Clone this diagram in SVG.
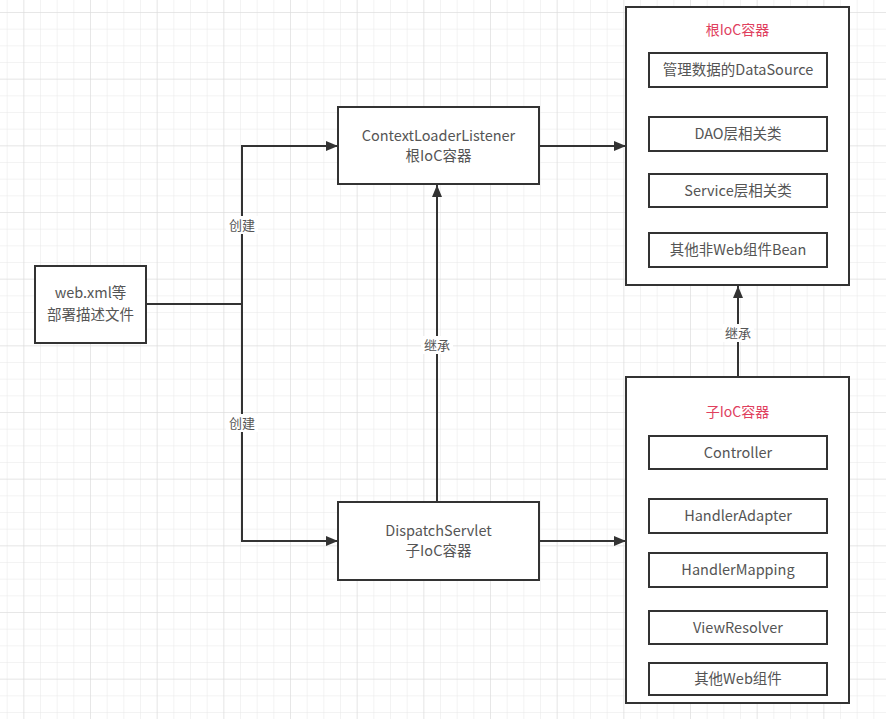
<svg xmlns="http://www.w3.org/2000/svg" width="886" height="719" viewBox="0 0 886 719">
<defs>
<pattern id="minor" x="6.667" y="12" width="16.667" height="16.667" patternUnits="userSpaceOnUse">
<path d="M0 0H16.667M0 0V16.667" fill="none" stroke="#e8e8e8" stroke-width="1"/>
</pattern>
<pattern id="major" x="23.333" y="12" width="66.667" height="66.667" patternUnits="userSpaceOnUse">
<path d="M0 0H66.667M0 0V66.667" fill="none" stroke="#dcdcdc" stroke-width="1"/>
</pattern>
<marker id="arr" viewBox="0 0 12 10" refX="12" refY="5" markerWidth="12" markerHeight="10" markerUnits="userSpaceOnUse" orient="auto">
<path d="M0 0L12 5L0 10Z" fill="#333"/>
</marker>
<style>
.box{fill:#fff;stroke:#333;stroke-width:2}
.t{font-family:"Noto Sans CJK SC","Noto Sans",sans-serif;font-size:14.5px;fill:#555;text-anchor:middle}
.title{font-family:"Noto Sans CJK SC","Noto Sans",sans-serif;font-size:14px;fill:#e0405e;text-anchor:middle}
.lbl{font-family:"Noto Sans CJK SC","Noto Sans",sans-serif;font-size:13px;fill:#555;text-anchor:middle}
.c{fill:none;stroke:#333;stroke-width:2}
.bg{fill:#fff}
</style>
</defs>
<rect width="886" height="719" fill="#fff"/>
<rect width="886" height="719" fill="url(#minor)"/>
<rect width="886" height="719" fill="url(#major)"/>

<g id="connectors">
<path class="c" d="M146 304H242"/>
<path class="c" d="M242 304V146H338" marker-end="url(#arr)"/>
<path class="c" d="M242 304V541H338" marker-end="url(#arr)"/>
<path class="c" d="M539 146H626" marker-end="url(#arr)"/>
<path class="c" d="M539 541H626" marker-end="url(#arr)"/>
<path class="c" d="M437 502V185" marker-end="url(#arr)"/>
<path class="c" d="M738 377V286" marker-end="url(#arr)"/>
<rect class="bg" x="226" y="216" width="32" height="18"/>
<text class="lbl" x="242" y="230">创建</text>
<rect class="bg" x="226" y="414" width="32" height="18"/>
<text class="lbl" x="242" y="428">创建</text>
<rect class="bg" x="421" y="336" width="32" height="18"/>
<text class="lbl" x="437" y="350">继承</text>
<rect class="bg" x="722" y="324" width="32" height="18"/>
<text class="lbl" x="738" y="338">继承</text>
</g>

<g id="webxml">
<rect class="box" x="35" y="266" width="111" height="77"/>
<text class="t" x="90.5" y="298">web.xml等</text>
<text class="t" x="90.5" y="320">部署描述文件</text>
</g>

<g id="contextLoaderListener">
<rect class="box" x="338" y="107" width="201" height="77"/>
<text class="t" x="438.5" y="141">ContextLoaderListener</text>
<text class="t" x="438.5" y="161">根IoC容器</text>
</g>

<g id="dispatchServlet">
<rect class="box" x="338" y="502" width="201" height="78"/>
<text class="t" x="438.5" y="536">DispatchServlet</text>
<text class="t" x="438.5" y="556">子IoC容器</text>
</g>

<g id="rootContainer">
<rect class="box" x="626" y="7" width="223" height="278"/>
<text class="title" x="737.5" y="35">根IoC容器</text>
</g>
<g id="dataSource">
<rect class="box" x="649" y="53" width="178" height="34"/>
<text class="t" x="738" y="75">管理数据的DataSource</text>
</g>
<g id="dao">
<rect class="box" x="649" y="117" width="178" height="34"/>
<text class="t" x="738" y="139">DAO层相关类</text>
</g>
<g id="service">
<rect class="box" x="649" y="174" width="178" height="33"/>
<text class="t" x="738" y="196">Service层相关类</text>
</g>
<g id="otherBean">
<rect class="box" x="649" y="233" width="178" height="34"/>
<text class="t" x="738" y="255">其他非Web组件Bean</text>
</g>

<g id="childContainer">
<rect class="box" x="626" y="377" width="223" height="326"/>
<text class="title" x="737.5" y="417">子IoC容器</text>
</g>
<g id="controller">
<rect class="box" x="649" y="436" width="178" height="33"/>
<text class="t" x="738" y="458">Controller</text>
</g>
<g id="handlerAdapter">
<rect class="box" x="649" y="499" width="178" height="34"/>
<text class="t" x="738" y="521">HandlerAdapter</text>
</g>
<g id="handlerMapping">
<rect class="box" x="649" y="553" width="178" height="34"/>
<text class="t" x="738" y="575">HandlerMapping</text>
</g>
<g id="viewResolver">
<rect class="box" x="649" y="611" width="178" height="33"/>
<text class="t" x="738" y="633">ViewResolver</text>
</g>
<g id="otherWeb">
<rect class="box" x="649" y="663" width="178" height="32"/>
<text class="t" x="738" y="684">其他Web组件</text>
</g>
</svg>
